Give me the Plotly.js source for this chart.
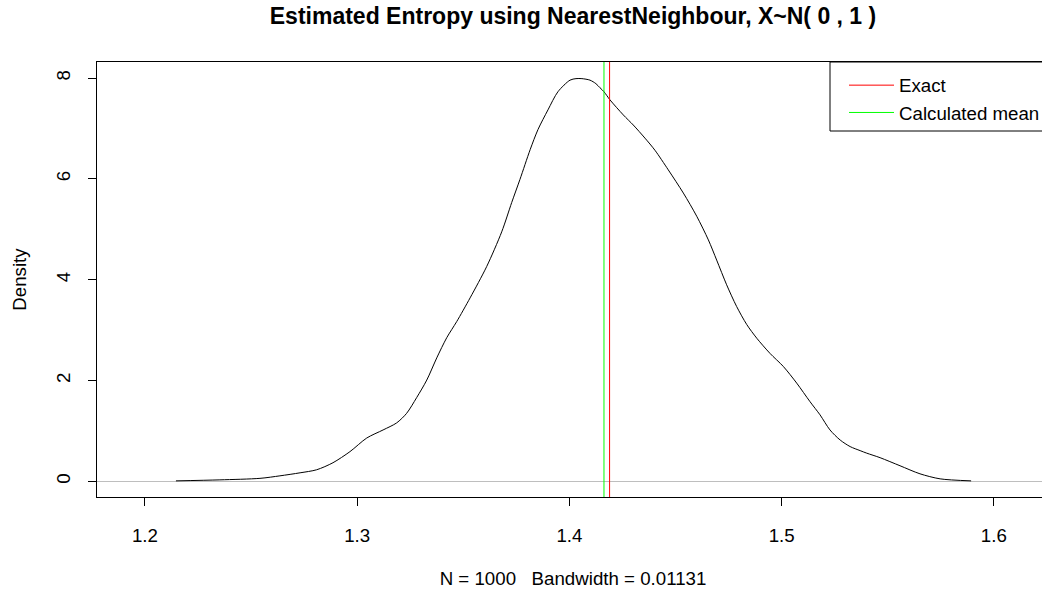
<!DOCTYPE html>
<html>
<head>
<meta charset="utf-8">
<script src="https://cdn.plot.ly/plotly-3.0.1.min.js"></script>
<style>
  html, body { margin: 0; padding: 0; overflow: hidden; background: #fff; }
  #chart { width: 1060px; height: 592px; }
</style>
</head>
<body>
<div id="chart"></div>
<script>
// Kernel density of the nearest-neighbour entropy estimates (N = 1000)
const densityX = [1.2146, 1.2353, 1.2542, 1.2636, 1.2731, 1.2809, 1.2886, 1.2966, 1.3045, 1.3122,
  1.3186, 1.3233, 1.3280, 1.3328, 1.3375, 1.3422, 1.3469, 1.3532, 1.3610, 1.3681,
  1.3728, 1.3767, 1.3815, 1.3852, 1.3899, 1.3946, 1.4003, 1.4031, 1.4059, 1.4097,
  1.4125, 1.4144, 1.4163, 1.4191, 1.4254, 1.4301, 1.4356, 1.4403, 1.4466, 1.4537,
  1.4600, 1.4655, 1.4694, 1.4741, 1.4788, 1.4836, 1.4883, 1.4945, 1.5008, 1.5071,
  1.5134, 1.5181, 1.5228, 1.5276, 1.5323, 1.5370, 1.5401, 1.5464, 1.5558, 1.5652,
  1.5747, 1.5893];
const densityY = [0.01, 0.03, 0.06, 0.11, 0.17, 0.23, 0.37, 0.59, 0.86, 1.02,
  1.16, 1.35, 1.66, 2.01, 2.45, 2.85, 3.17, 3.64, 4.26, 4.95,
  5.53, 5.99, 6.58, 6.98, 7.37, 7.73, 7.96, 7.99, 7.99, 7.96,
  7.89, 7.81, 7.73, 7.57, 7.27, 7.07, 6.81, 6.57, 6.18, 5.72,
  5.26, 4.79, 4.39, 3.90, 3.47, 3.11, 2.84, 2.54, 2.28, 1.95,
  1.58, 1.32, 1.02, 0.82, 0.69, 0.61, 0.56, 0.47, 0.31, 0.15,
  0.05, 0.01];

// Exact entropy of N(0,1): 0.5 * log(2*pi*e), and the mean of the estimates
const exactEntropy = 1.418939;
const calculatedMean = 1.4163;

const legendNames = ["Exact", "Calculated mean"];
const xTickValues = [1.2, 1.3, 1.4, 1.5, 1.6];
const yTickValues = [0, 2, 4, 6, 8];

const xRange = [1.1774, 1.626];
const yRange = [-0.31, 8.32];

const font = "Liberation Sans, Arial, sans-serif";
const textSize = 18.7;

const traces = [
  {
    x: densityX, y: densityY, type: "scatter", mode: "lines",
    line: { color: "#000000", width: 1, shape: "spline", smoothing: 0.8 },
    showlegend: false, hoverinfo: "skip"
  },
  {
    x: [exactEntropy, exactEntropy], y: [yRange[0], yRange[1]],
    type: "scatter", mode: "lines", name: legendNames[0],
    line: { color: "#FF0000", width: 1 }
  },
  {
    x: [calculatedMean, calculatedMean], y: [yRange[0], yRange[1]],
    type: "scatter", mode: "lines", name: legendNames[1],
    line: { color: "#00FF00", width: 1 }
  }
];

const layout = {
  width: 1060, height: 592,
  margin: { l: 97, r: 11, t: 62, b: 95, pad: 0 },
  paper_bgcolor: "#ffffff", plot_bgcolor: "#ffffff",
  font: { family: font, size: textSize, color: "#000000" },
  title: {
    text: "<b>Estimated Entropy using NearestNeighbour, X~N( 0 , 1 )</b>",
    font: { family: font, size: 23, color: "#000000" },
    x: 0.5, xref: "paper", xanchor: "center",
    y: 1, yref: "container", yanchor: "top", pad: { t: 8 }
  },
  xaxis: {
    range: xRange, tickvals: xTickValues, tickformat: ".1f",
    showgrid: false, zeroline: false,
    showline: true, mirror: true, linecolor: "#000000", linewidth: 1,
    ticks: "outside", ticklen: 8, tickcolor: "#000000", tickwidth: 1,
    ticklabelstandoff: 14,
    tickfont: { family: font, size: textSize, color: "#000000" },
    title: { text: "N = 1000   Bandwidth = 0.01131", standoff: 26,
             font: { family: font, size: textSize, color: "#000000" } }
  },
  yaxis: {
    range: yRange, tickvals: yTickValues, tickangle: -90,
    showgrid: false,
    zeroline: true, zerolinecolor: "#BEBEBE", zerolinewidth: 1,
    showline: true, mirror: true, linecolor: "#000000", linewidth: 1,
    ticks: "outside", ticklen: 8, tickcolor: "#000000", tickwidth: 1,
    ticklabelstandoff: 11,
    tickfont: { family: font, size: textSize, color: "#000000" },
    title: { text: "Density", standoff: 20,
             font: { family: font, size: textSize, color: "#000000" } }
  },
  showlegend: true,
  legend: {
    x: (844 - 97) / 952, xanchor: "left", xref: "paper",
    y: 1 - 4.5 / 435, yanchor: "top", yref: "paper",
    bgcolor: "rgba(0,0,0,0)", borderwidth: 0,
    itemwidth: 45, tracegroupgap: 0,
    font: { family: font, size: textSize, color: "#000000" }
  },
  shapes: [
    {
      type: "rect", xref: "paper", yref: "paper",
      x0: (830 - 97) / 952, x1: 1, y0: 1 - (131 - 62) / 435, y1: 1,
      line: { color: "#000000", width: 1 }, fillcolor: "rgba(0,0,0,0)", layer: "above"
    }
  ]
};

Plotly.newPlot("chart", traces, layout, { displayModeBar: false, staticPlot: true });
</script>
</body>
</html>
